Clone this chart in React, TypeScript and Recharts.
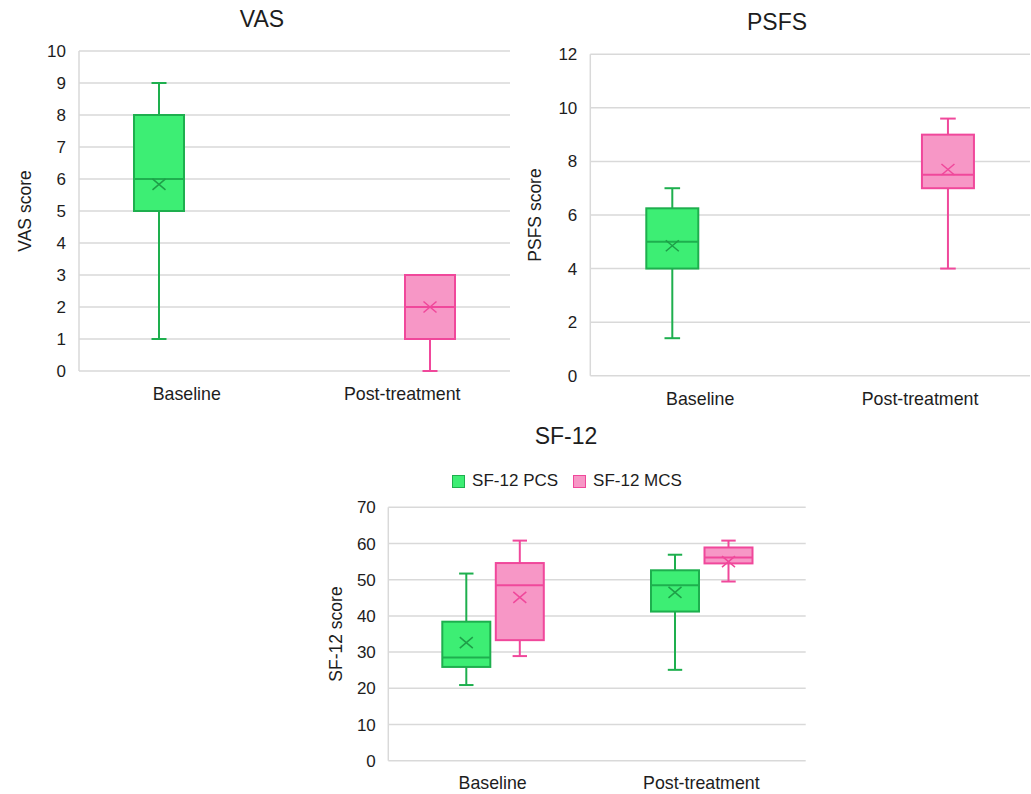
import React from 'react';
import { ComposedChart, Bar, XAxis, YAxis, CartesianGrid, Legend, Label } from 'recharts';

// ---------- data ----------
const categories = ['Baseline', 'Post-treatment'];
// each summary: [min, Q1, median, Q3, max, mean]
const vasBaseline = [1, 5, 6, 8, 9, 5.83];
const vasPost = [0, 1, 2, 3, 3, 2.0];
const psfsBaseline = [1.4, 4, 5, 6.25, 7, 4.85];
const psfsPost = [4, 7, 7.5, 9, 9.6, 7.7];
const pcsBaseline = [20.9, 25.9, 28.5, 38.4, 51.7, 32.6];
const pcsPost = [25.1, 41.2, 48.5, 52.6, 56.9, 46.5];
const mcsBaseline = [28.9, 33.3, 48.5, 54.6, 60.8, 45.1];
const mcsPost = [49.5, 54.5, 56.1, 58.9, 60.8, 55.0];

const vasTicks = [0, 1, 2, 3, 4, 5, 6, 7, 8, 9, 10];
const psfsTicks = [0, 2, 4, 6, 8, 10, 12];
const sf12Ticks = [0, 10, 20, 30, 40, 50, 60, 70];
const sf12SeriesNames = ['SF-12 PCS', 'SF-12 MCS'];

const vasData = categories.map((category, i) => ({
  category,
  baseline: i === 0 ? vasBaseline : null,
  post: i === 1 ? vasPost : null,
}));
const psfsData = categories.map((category, i) => ({
  category,
  baseline: i === 0 ? psfsBaseline : null,
  post: i === 1 ? psfsPost : null,
}));
const sf12Data = categories.map((category, i) => ({
  category,
  pcs: [pcsBaseline, pcsPost][i],
  mcs: [mcsBaseline, mcsPost][i],
}));

// ---------- styles ----------
const FONT = '"Liberation Sans", Arial, Helvetica, sans-serif';
const TEXT = '#1d1d1d';
const GRID = '#d9d9d9';
const GREEN = { fill: '#3DEE74', stroke: '#1EAF4E', mark: '#1E9E48' };
const PINK = { fill: '#F797C6', stroke: '#F0489B', mark: '#F0489B' };
const seriesStyles: Record<string, any> = { 'SF-12 PCS': GREEN, 'SF-12 MCS': PINK };

const range = (key: string) => (d: any) => (d[key] ? [d[key][0], d[key][4]] : null);

const boxShape = (key: string, c: any) => (props: any) => {
  const { x, y, width, height, payload } = props;
  const s = payload && payload[key];
  if (!s || !height) return <g />;
  const [mn, q1, med, q3, mx, mean] = s;
  const k = height / (mx - mn);
  const py = (v: number) => y + (mx - v) * k;
  const cx = x + width / 2;
  const cap = width * 0.15;
  const mw = 6.5;
  const mh = 5.5;
  const my = py(mean);
  return (
    <g>
      <line x1={cx} x2={cx} y1={py(mx)} y2={py(q3)} stroke={c.stroke} strokeWidth={2} />
      <line x1={cx} x2={cx} y1={py(q1)} y2={py(mn)} stroke={c.stroke} strokeWidth={2} />
      <line x1={cx - cap} x2={cx + cap} y1={py(mx)} y2={py(mx)} stroke={c.stroke} strokeWidth={2} />
      <line x1={cx - cap} x2={cx + cap} y1={py(mn)} y2={py(mn)} stroke={c.stroke} strokeWidth={2} />
      <rect x={x} y={py(q3)} width={width} height={py(q1) - py(q3)} fill={c.fill} stroke={c.stroke} strokeWidth={2} />
      <line x1={x} x2={x + width} y1={py(med)} y2={py(med)} stroke={c.stroke} strokeWidth={2} />
      <path
        d={`M${cx - mw},${my - mh}L${cx + mw},${my + mh}M${cx - mw},${my + mh}L${cx + mw},${my - mh}`}
        stroke={c.mark}
        strokeWidth={1.5}
        fill="none"
      />
    </g>
  );
};

const yLabel = (text: string, dx: number) => (p: any) => {
  const vb = p.viewBox || {};
  const X = (vb.x || 0) + dx;
  const Y = (vb.y || 0) + (vb.height || 0) / 2;
  return (
    <text x={X} y={Y} transform={`rotate(-90 ${X} ${Y})`} textAnchor="middle" fontSize={17.5} fill={TEXT} fontFamily={FONT}>
      {text}
    </text>
  );
};

const renderLegend = (props: any) => {
  const items = [...(props.payload || [])].sort(
    (a: any, b: any) => sf12SeriesNames.indexOf(a.value) - sf12SeriesNames.indexOf(b.value)
  );
  return (
    <div style={{ display: 'flex', justifyContent: 'center', alignItems: 'center', fontFamily: FONT, fontSize: 17, color: TEXT, lineHeight: '20px' }}>
      {items.map((entry: any, i: number) => {
        const st = seriesStyles[entry.value] || GREEN;
        return (
          <div key={i} style={{ display: 'flex', alignItems: 'center', marginLeft: i === 0 ? 0 : 15 }}>
            <span style={{ display: 'inline-block', width: 11, height: 11, background: st.fill, border: `1.5px solid ${st.stroke}`, marginRight: 7 }} />
            <span>{entry.value}</span>
          </div>
        );
      })}
    </div>
  );
};

const Title = ({ text, cx, top }: { text: string; cx: number; top: number }) => (
  <div
    style={{
      position: 'absolute',
      left: cx - 100,
      top,
      width: 200,
      textAlign: 'center',
      fontFamily: FONT,
      fontSize: 23,
      lineHeight: '23px',
      color: TEXT,
    }}
  >
    {text}
  </div>
);

const yTick = { fontSize: 17, fill: TEXT, fontFamily: FONT };
const xTick = { fontSize: 17.8, fill: TEXT, fontFamily: FONT };

export default function App() {
  return (
    <div style={{ position: 'absolute', left: 0, top: 0, width: 1031, height: 794, background: '#fff', overflow: 'hidden' }}>
      <Title text="VAS" cx={262} top={8} />
      <Title text="PSFS" cx={777} top={11} />
      <Title text="SF-12" cx={566} top={425} />

      {/* VAS */}
      <div style={{ position: 'absolute', left: 0, top: 0 }}>
        <ComposedChart width={515} height={410} data={vasData} margin={{ top: 51, right: 5, left: 0, bottom: 0 }} barSize={50} barGap={5.5}>
          <CartesianGrid vertical={false} stroke={GRID} strokeWidth={1.5} />
          <XAxis dataKey="category" height={39} tickSize={0} tickMargin={16.5} axisLine={false} tickLine={false} tick={xTick} />
          <YAxis width={79} domain={[0, 10]} ticks={vasTicks} interval={0} tickSize={0} tickMargin={13} tickLine={false} axisLine={{ stroke: GRID, strokeWidth: 1.5 }} tick={yTick}>
            <Label content={yLabel('VAS score', 30.5)} />
          </YAxis>
          <Bar dataKey={range('baseline')} name="Baseline" fill={GREEN.fill} shape={boxShape('baseline', GREEN)} isAnimationActive={false} />
          <Bar dataKey={range('post')} name="Post-treatment" fill={PINK.fill} shape={boxShape('post', PINK)} isAnimationActive={false} />
        </ComposedChart>
      </div>

      {/* PSFS */}
      <div style={{ position: 'absolute', left: 515, top: 0 }}>
        <ComposedChart width={516} height={410} data={psfsData} margin={{ top: 54.3, right: 1, left: 0, bottom: 0 }} barSize={52} barGap={3.8}>
          <CartesianGrid vertical={false} stroke={GRID} strokeWidth={1.5} />
          <XAxis dataKey="category" height={34.3} tickSize={0} tickMargin={16.5} axisLine={false} tickLine={false} tick={xTick} />
          <YAxis width={75.3} domain={[0, 12]} ticks={psfsTicks} interval={0} tickSize={0} tickMargin={13} tickLine={false} axisLine={{ stroke: GRID, strokeWidth: 1.5 }} tick={yTick}>
            <Label content={yLabel('PSFS score', 25.7)} />
          </YAxis>
          <Bar dataKey={range('baseline')} name="Baseline" fill={GREEN.fill} shape={boxShape('baseline', GREEN)} isAnimationActive={false} />
          <Bar dataKey={range('post')} name="Post-treatment" fill={PINK.fill} shape={boxShape('post', PINK)} isAnimationActive={false} />
        </ComposedChart>
      </div>

      {/* SF-12 */}
      <div style={{ position: 'absolute', left: 320, top: 420 }}>
        <ComposedChart width={500} height={374} data={sf12Data} margin={{ top: 87.3, right: 14.3, left: 0, bottom: 0 }} barSize={48} barGap={5.5}>
          <CartesianGrid vertical={false} stroke={GRID} strokeWidth={1.5} />
          <XAxis dataKey="category" height={33.3} tickSize={0} tickMargin={16} axisLine={false} tickLine={false} tick={xTick} />
          <YAxis width={68.3} domain={[0, 70]} ticks={sf12Ticks} interval={0} tickSize={0} tickMargin={12.5} tickLine={false} axisLine={{ stroke: GRID, strokeWidth: 1.5 }} tick={yTick}>
            <Label content={yLabel('SF-12 score', 21.7)} />
          </YAxis>
          <Legend verticalAlign="middle" layout="horizontal" content={renderLegend} wrapperStyle={{ top: 51, left: -3, width: 500 }} />
          <Bar dataKey={range('pcs')} name="SF-12 PCS" fill={GREEN.fill} shape={boxShape('pcs', GREEN)} isAnimationActive={false} />
          <Bar dataKey={range('mcs')} name="SF-12 MCS" fill={PINK.fill} shape={boxShape('mcs', PINK)} isAnimationActive={false} />
        </ComposedChart>
      </div>
    </div>
  );
}
